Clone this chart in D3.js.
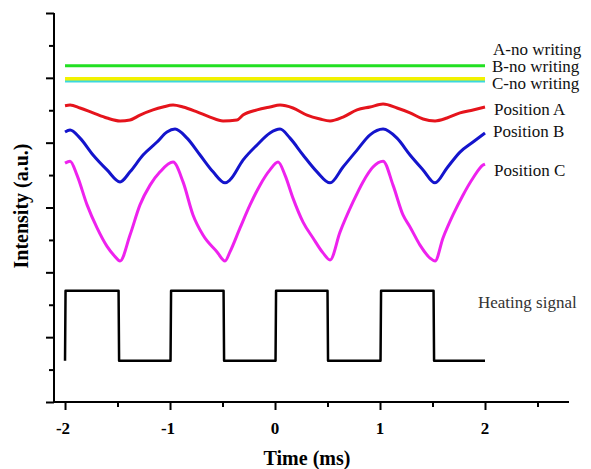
<!DOCTYPE html>
<html lang="en">
<head>
    <meta charset="UTF-8">
    <title>Intensity vs time</title>
    <script src="https://d3js.org/d3.v7.min.js"></script>
    <style>
        body { margin: 0; background: #fff; }
        svg { display: block; font-family: "Liberation Serif", "Times New Roman", serif; }
        .axis path, .axis line { stroke: #000; stroke-width: 2px; }
        .tick-label { font-weight: bold; font-size: 17px; }
        .title { font-weight: bold; font-size: 20px; }
        .series-label { font-size: 17px; fill: #111; }
    </style>
</head>
<body>
    <svg id="chart" width="591" height="469"></svg>

    <script>
        // values: [time (ms), intensity (a.u.)]
        const xMajorTicks = [-2, -1, 0, 1, 2];
        const xMinorTicks = [-1.5, -0.5, 0.5, 1.5, 2.5];
        const yMajorTicks = [0, 2, 4, 6, 8, 10, 12];
        const yMinorTicks = [1, 3, 5, 7, 9, 11];

        const noWritingA = [[-2, 10.37], [2, 10.37]];
        const noWritingB = [[-2, 9.97], [2, 9.97]];
        const noWritingC = [[-2, 9.90], [2, 9.90]];

        const positionA = [
            [-2.000, 9.14], [-1.952, 9.16], [-1.857, 9.07], [-1.733, 8.92], [-1.600, 8.76],
            [-1.476, 8.67], [-1.381, 8.70], [-1.286, 8.85], [-1.162, 9.01], [-1.067, 9.10],
            [-0.971, 9.16], [-0.876, 9.10], [-0.743, 8.95], [-0.619, 8.79], [-0.495, 8.67],
            [-0.362, 8.70], [-0.305, 8.85], [-0.171, 9.01], [-0.048, 9.10], [0.048, 9.16],
            [0.171, 9.07], [0.305, 8.85], [0.429, 8.73], [0.524, 8.67], [0.648, 8.79],
            [0.781, 9.01], [0.905, 9.10], [1.029, 9.19], [1.162, 9.07], [1.286, 8.92],
            [1.410, 8.73], [1.524, 8.67], [1.638, 8.76], [1.762, 8.92], [1.886, 9.01],
            [2.000, 9.10]
        ];

        const positionB = [
            [-2.000, 8.33], [-1.952, 8.39], [-1.857, 8.14], [-1.733, 7.62], [-1.600, 7.16],
            [-1.476, 6.79], [-1.381, 7.10], [-1.257, 7.62], [-1.124, 8.02], [-1.029, 8.33],
            [-0.952, 8.42], [-0.838, 8.14], [-0.714, 7.62], [-0.590, 7.10], [-0.476, 6.76],
            [-0.429, 6.85], [-0.305, 7.46], [-0.171, 7.93], [-0.048, 8.30], [0.048, 8.42],
            [0.143, 8.14], [0.267, 7.62], [0.400, 7.10], [0.524, 6.76], [0.648, 7.25],
            [0.781, 7.77], [0.905, 8.24], [1.029, 8.42], [1.162, 8.14], [1.286, 7.62],
            [1.410, 7.16], [1.524, 6.76], [1.638, 7.22], [1.762, 7.71], [1.886, 8.02],
            [2.000, 8.30]
        ];

        const positionC = [
            [-2.000, 7.37], [-1.952, 7.43], [-1.886, 7.00], [-1.790, 6.08], [-1.695, 5.37],
            [-1.600, 4.80], [-1.533, 4.52], [-1.476, 4.35], [-1.381, 5.15], [-1.286, 6.08],
            [-1.190, 6.69], [-1.095, 7.10], [-0.971, 7.40], [-0.876, 6.79], [-0.781, 5.77],
            [-0.686, 5.15], [-0.552, 4.63], [-0.476, 4.35], [-0.429, 4.63], [-0.333, 5.37],
            [-0.238, 6.08], [-0.143, 6.69], [-0.048, 7.16], [0.029, 7.40], [0.095, 7.00],
            [0.171, 6.29], [0.267, 5.55], [0.362, 5.06], [0.457, 4.60], [0.524, 4.38],
            [0.619, 5.24], [0.743, 6.17], [0.838, 6.79], [0.933, 7.25], [1.029, 7.43],
            [1.124, 6.69], [1.219, 5.77], [1.286, 5.40], [1.381, 4.84], [1.476, 4.44],
            [1.524, 4.35], [1.600, 5.06], [1.695, 5.77], [1.790, 6.38], [1.886, 6.91],
            [1.981, 7.31], [2.000, 7.34]
        ];

        const heatingSignal = [
            [-2.000, 1.27], [-1.995, 3.43], [-1.490, 3.43], [-1.485, 1.27],
            [-0.995, 1.27], [-0.990, 3.43], [-0.490, 3.43], [-0.485, 1.27],
            [0.005, 1.27], [0.010, 3.43], [0.500, 3.43], [0.505, 1.27],
            [1.005, 1.27], [1.010, 3.43], [1.510, 3.43], [1.515, 1.27],
            [2.000, 1.27]
        ];

        const svg = d3.select("#chart");

        const x = d3.scaleLinear().domain([-2.105, 2.8]).range([54, 569]);
        const y = d3.scaleLinear().domain([0, 12]).range([402, 13]);

        // axes: long major ticks, short minor ticks, pointing outward
        const xAxisG = svg.append("g").attr("class", "axis").attr("transform", "translate(0,402)");
        xAxisG.append("g").call(d3.axisBottom(x).tickValues(xMinorTicks).tickSize(5).tickFormat(""));
        xAxisG.append("g").call(d3.axisBottom(x).tickValues(xMajorTicks).tickSize(8).tickFormat(""));
        xAxisG.selectAll(".domain").attr("d", `M${x.range()[0]},0H${x.range()[1]}`);

        const yAxisG = svg.append("g").attr("class", "axis").attr("transform", "translate(54,0)");
        yAxisG.append("g").call(d3.axisLeft(y).tickValues(yMinorTicks).tickSize(5).tickFormat(""));
        yAxisG.append("g").call(d3.axisLeft(y).tickValues(yMajorTicks).tickSize(8).tickFormat(""));
        yAxisG.selectAll(".domain").attr("d", `M0,${y.range()[0]}V${y.range()[1]}`);

        svg.append("g").selectAll("text")
            .data(xMajorTicks)
            .enter().append("text")
            .attr("class", "tick-label")
            .attr("x", d => x(d) - (d < 0 ? 2 : 0))
            .attr("y", 434)
            .attr("text-anchor", "middle")
            .text(d => d);

        svg.append("text")
            .attr("class", "title")
            .attr("x", x(0) + 32)
            .attr("y", 465)
            .attr("text-anchor", "middle")
            .text("Time (ms)");

        svg.append("text")
            .attr("class", "title")
            .attr("transform", "translate(28,206) rotate(-90)")
            .attr("text-anchor", "middle")
            .text("Intensity (a.u.)");

        const line = d3.line().x(d => x(d[0])).y(d => y(d[1]));
        const smooth = d3.line().x(d => x(d[0])).y(d => y(d[1])).curve(d3.curveMonotoneX);

        const series = [
            { data: noWritingA, color: "#22e022", gen: line, width: 3 },
            { data: noWritingC, color: "#3ad8e0", gen: line, width: 3 },
            { data: noWritingB, color: "#f2f200", gen: line, width: 3.5 },
            { data: positionA, color: "#e5141c", gen: smooth, width: 3 },
            { data: positionB, color: "#1414cc", gen: smooth, width: 3 },
            { data: positionC, color: "#ee22ee", gen: smooth, width: 3 },
            { data: heatingSignal, color: "#000000", gen: line, width: 2.5 }
        ];

        svg.append("g").selectAll("path")
            .data(series)
            .enter().append("path")
            .attr("d", d => d.gen(d.data))
            .attr("fill", "none")
            .attr("stroke", d => d.color)
            .attr("stroke-width", d => d.width)
            .attr("stroke-linejoin", "round");

        // curve labels at the right end
        const labelNames = ["A-no writing", "B-no writing", "C-no writing", "Position A", "Position B", "Position C", "Heating signal"];
        const labelX = [493, 492, 492, 494, 493, 494, 478];
        const labelY = [55, 72, 89, 115, 137, 176, 308];

        svg.append("g").selectAll("text")
            .data(labelNames)
            .enter().append("text")
            .attr("class", "series-label")
            .attr("x", (d, i) => labelX[i])
            .attr("y", (d, i) => labelY[i])
            .style("fill", (d, i) => i === 6 ? "#333" : "#111")
            .text(d => d);
    </script>
</body>
</html>
